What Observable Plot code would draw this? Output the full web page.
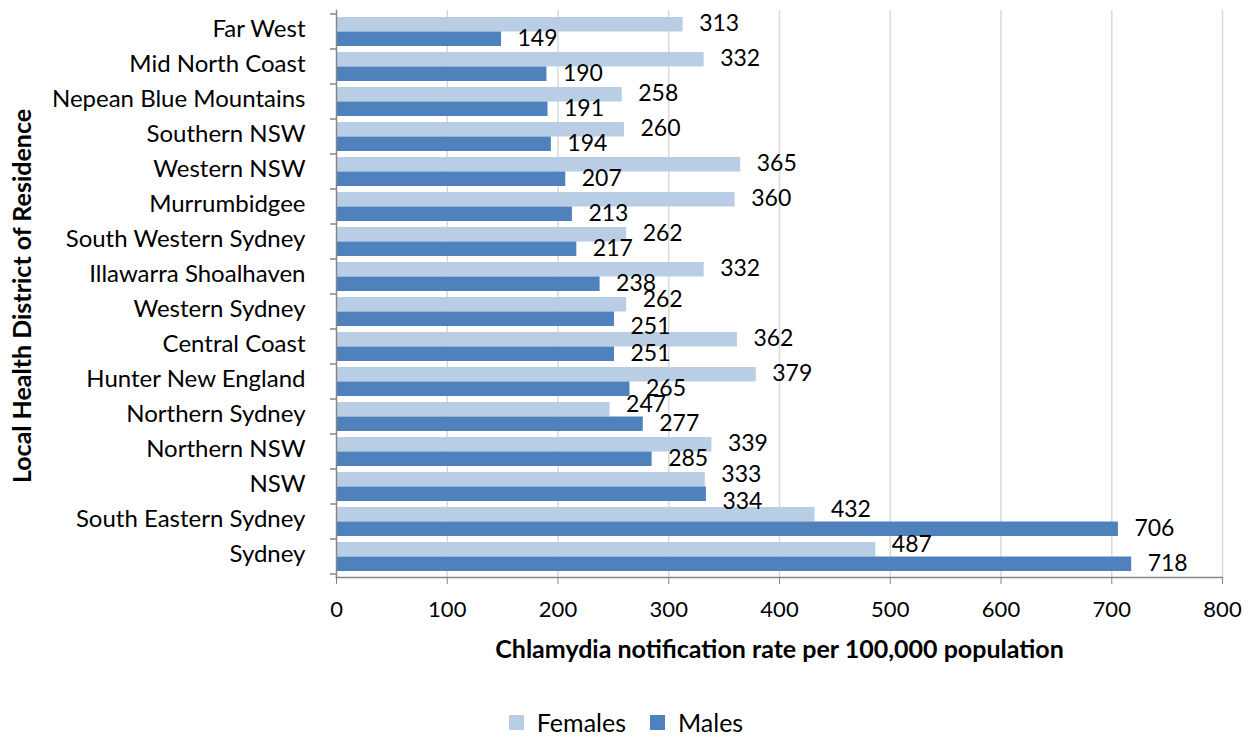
<!DOCTYPE html>
<html><head><meta charset="utf-8">
<script src="https://cdn.jsdelivr.net/npm/d3@7"></script>
<script src="https://cdn.jsdelivr.net/npm/@observablehq/plot@0.6"></script>
<style>
body{margin:0;background:#fff;font-family:Lato,"Open Sans",sans-serif;}
#legend{display:flex;justify-content:center;align-items:center;height:44px;font-size:25px;line-height:1;padding-right:8px;}
.sw{display:inline-block;width:15px;height:15px;margin-right:13px;}
.item{display:flex;align-items:center;}
.item + .item{margin-left:24px;}
</style></head>
<body>
<div id="chart"></div>
<div id="legend"></div>
<script>
const districts = ["Far West","Mid North Coast","Nepean Blue Mountains","Southern NSW","Western NSW","Murrumbidgee","South Western Sydney","Illawarra Shoalhaven","Western Sydney","Central Coast","Hunter New England","Northern Sydney","Northern NSW","NSW","South Eastern Sydney","Sydney"];
const females = [313,332,258,260,365,360,262,332,262,362,379,247,339,333,432,487];
const males = [149,190,191,194,207,213,217,238,251,251,265,277,285,334,706,718];
const xTicks = [0,100,200,300,400,500,600,700,800];
const seriesNames = ["Females","Males"];
const colors = ["#B9CDE5","#4F81BD"];

const fData = districts.map((d,i)=>({district:d, value:females[i], other:males[i]}));
const mData = districts.map((d,i)=>({district:d, value:males[i], other:females[i]}));

// simple label collision rule (like the spreadsheet's): a female label that would sit on
// the longer male bar, or on the male label, is lifted; a male label colliding with
// the female label is lowered.
const labelsClash = d => Math.abs(d.value - d.other) < 36;
const fLift = d => d.other > d.value + 10 || labelsClash(d);
const mDrop = d => labelsClash(d) && d.value <= d.other + 10;

const fNormal = fData.filter(d=>!fLift(d)), fLifted = fData.filter(fLift);
const mNormal = mData.filter(d=>!mDrop(d)), mDropped = mData.filter(mDrop);

const lab = (data, dy) => Plot.text(data, {x:"value", y:"district", text:d=>String(d.value), textAnchor:"start", dx:16, dy, fontSize:23, fill:"black"});

const plot = Plot.plot({
  width:1260, height:700,
  marginLeft:336, marginRight:38, marginTop:10, marginBottom:123,
  style:{fontFamily:"Lato, 'Open Sans', sans-serif", fontSize:"22px", color:"black"},
  x:{domain:[0,800]},
  y:{domain:districts, paddingInner:0.18, paddingOuter:0.09},
  marks:[
    Plot.gridX(xTicks.filter(t=>t>0), {stroke:"#d9d9d9", strokeOpacity:1, strokeWidth:1.5}),
    Plot.barX(fData, {x:"value", y:"district", fill:colors[0], insetBottom:14.5}),
    Plot.barX(mData, {x:"value", y:"district", fill:colors[1], insetTop:14.5}),
    lab(fNormal, -8),
    lab(fLifted, -12),
    lab(mNormal, 7),
    lab(mDropped, 15),
    Plot.frame({anchor:"left", stroke:"#868686", strokeWidth:1.5}),
    Plot.frame({anchor:"bottom", stroke:"#868686", strokeWidth:1.5}),
    Plot.axisX({ticks:xTicks, tickFormat:d=>String(d), tickSize:7, tickPadding:17, fontSize:22, stroke:"#868686", fill:"black", label:null}),
    Plot.axisY({tickSize:0, tickPadding:31, fontSize:24, dy:-3, fill:"black", label:null}),
    Plot.text(["Chlamydia notification rate per 100,000 population"], {frameAnchor:"bottom", dy:80, fontWeight:"bold", fontSize:25, fill:"black"}),
    Plot.text(["Local Health District of Residence"], {frameAnchor:"left", textAnchor:"middle", dx:-314, dy:2, rotate:-90, fontWeight:"bold", fontSize:25, fill:"black"})
  ]
});
document.getElementById("chart").appendChild(plot);

// boundary tick marks on the category axis, from Plot's own y scale
const ys = plot.scale("y");
const bw = ys.bandwidth;
const starts = districts.map(d=>ys.apply(d));
const step = starts[1]-starts[0];
const gap = (step - bw)/2;
const x0 = plot.scale("x").apply(0);
const bounds = starts.map(s=>s-gap).concat([starts[starts.length-1]+bw+gap]);
d3.select(plot).append("g").selectAll("line").data(bounds).join("line")
  .attr("x1", x0-6).attr("x2", x0).attr("y1", d=>d).attr("y2", d=>d)
  .attr("stroke","#868686").attr("stroke-width",1.5);

const lg = d3.select("#legend");
seriesNames.forEach((n,i)=>{
  const it = lg.append("div").attr("class","item");
  it.append("span").attr("class","sw").style("background",colors[i]);
  it.append("span").text(n);
});
</script>
</body></html>
